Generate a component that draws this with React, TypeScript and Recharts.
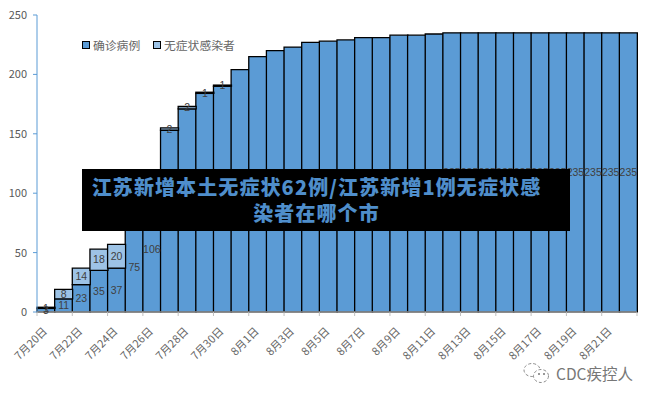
import { BarChart, Bar, XAxis, YAxis, Legend, LabelList } from "recharts";

const DATES = [
  "7月20日", "7月21日", "7月22日", "7月23日", "7月24日", "7月25日", "7月26日", "7月27日", "7月28日", "7月29日", "7月30日", "7月31日",
  "8月1日", "8月2日", "8月3日", "8月4日", "8月5日", "8月6日", "8月7日", "8月8日", "8月9日", "8月10日", "8月11日", "8月12日",
  "8月13日", "8月14日", "8月15日", "8月16日", "8月17日", "8月18日", "8月19日", "8月20日", "8月21日", "8月22日",
];
const CONFIRMED = [
  3, 11, 23, 35, 37, 75, 106, 153, 171, 184, 190, 204,
  215, 220, 223, 227, 228, 229, 231, 231, 233, 233, 234, 235,
  235, 235, 235, 235, 235, 235, 235, 235, 235, 235,
];
const ASYMPTOMATIC = [1, 8, 14, 18, 20, null, null, 2, 2, 1, 1];
const Y_TICKS = [0, 50, 100, 150, 200, 250];

const BLUE = "#5b9bd5";
const LIGHT = "#9dc3e6";
const TEXT = "#595959";
const FONT = '"Noto Sans CJK SC", sans-serif';
const HALF_BAND = 600 / DATES.length / 2;

const data = DATES.map((date, i) => ({
  date,
  confirmed: CONFIRMED[i],
  asymptomatic: ASYMPTOMATIC[i] ?? null,
}));

function DateTick({ x, y, payload, index }: any) {
  const i = index ?? payload.index;
  return (
    <g>
      {i % 2 === 0 && <line x1={x - HALF_BAND} x2={x - HALF_BAND} y1={312} y2={316} stroke="#bfbfbf" />}
      {i === DATES.length - 1 && <line x1={x + HALF_BAND} x2={x + HALF_BAND} y1={312} y2={316} stroke="#bfbfbf" />}
      {i % 2 === 0 && (
        <text
          x={x + 2}
          y={y + 12}
          transform={`rotate(-45 ${x + 2} ${y + 12})`}
          textAnchor="end"
          fontSize={11}
          fontFamily={FONT}
          fill="#666"
        >
          {payload.value}
        </text>
      )}
    </g>
  );
}

function ChartLegend() {
  const items = [
    { name: "确诊病例", color: BLUE, width: 71 },
    { name: "无症状感染者", color: LIGHT, width: 90 },
  ];
  return (
    <div style={{ display: "flex", fontFamily: FONT, fontSize: 11.8, color: "#666", lineHeight: "16px" }}>
      {items.map((it) => (
        <div key={it.name} style={{ display: "flex", alignItems: "center", width: it.width }}>
          <span style={{ width: 6, height: 6, background: it.color, border: "1px solid #000", marginRight: 3 }} />
          {it.name}
        </div>
      ))}
    </div>
  );
}

function Watermark() {
  return (
    <div style={{ position: "absolute", left: 522, top: 360, width: 125, height: 26, display: "flex", alignItems: "center" }}>
      <svg width={30} height={26}>
        <ellipse cx={10} cy={10} rx={8} ry={6.5} fill="#fff" stroke="#8c8c8c" strokeDasharray="3 2" />
        <ellipse cx={19} cy={16} rx={7.5} ry={6.5} fill="#fff" stroke="#8c8c8c" strokeDasharray="3 2" />
        <circle cx={17} cy={14} r={1} fill="#777" />
        <circle cx={22} cy={14} r={1} fill="#777" />
      </svg>
      <span style={{ marginLeft: 4, fontFamily: FONT, fontSize: 15.5, color: "#777", whiteSpace: "nowrap" }}>CDC疾控人</span>
    </div>
  );
}

export default function App() {
  return (
    <div style={{ position: "absolute", left: 0, top: 0, width: 654, height: 401, background: "#fff", overflow: "hidden" }}>
      <BarChart
        width={654}
        height={401}
        data={data}
        barCategoryGap={0}
        margin={{ top: 15, right: 17, bottom: 0, left: 0 }}
      >
        <XAxis
          dataKey="date"
          interval={0}
          height={89}
          tick={<DateTick />}
          tickLine={false}
          axisLine={{ stroke: "#d9d9d9" }}
        />
        <YAxis
          width={37}
          domain={[0, 250]}
          ticks={Y_TICKS}
          tickSize={4}
          tickMargin={6}
          tick={{ fontSize: 11, fill: TEXT, fontFamily: FONT }}
          axisLine={{ stroke: BLUE }}
          tickLine={{ stroke: BLUE }}
        />
        <Legend
          layout="horizontal"
          align="center"
          verticalAlign="middle"
          content={<ChartLegend />}
          wrapperStyle={{ position: "absolute", left: 82, top: 37, width: 170, bottom: "auto" }}
        />
        <Bar dataKey="confirmed" name="确诊病例" stackId="a" fill={BLUE} stroke="#000" strokeWidth={1.3} isAnimationActive={false}>
          <LabelList dataKey="confirmed" position="center" fontSize={10.5} fill="#404040" fontFamily="Liberation Sans" />
        </Bar>
        <Bar dataKey="asymptomatic" name="无症状感染者" stackId="a" fill={LIGHT} stroke="#000" strokeWidth={1.3} isAnimationActive={false}>
          <LabelList dataKey="asymptomatic" position="center" fontSize={10.5} fill="#404040" fontFamily="Liberation Sans" />
        </Bar>
      </BarChart>
      <div
        style={{
          position: "absolute",
          left: 82,
          top: 169,
          width: 488,
          height: 62,
          boxSizing: "border-box",
          padding: "5px 19px 0 0",
          background: "#000",
          color: "#4f8ecb",
          fontFamily: FONT,
          fontWeight: 900,
          fontSize: 20,
          letterSpacing: 1.1,
          lineHeight: "26px",
          textAlign: "center",
          whiteSpace: "nowrap",
        }}
      >
        江苏新增本土无症状62例/江苏新增1例无症状感
        <br />
        染者在哪个市
      </div>
      <Watermark />
    </div>
  );
}
